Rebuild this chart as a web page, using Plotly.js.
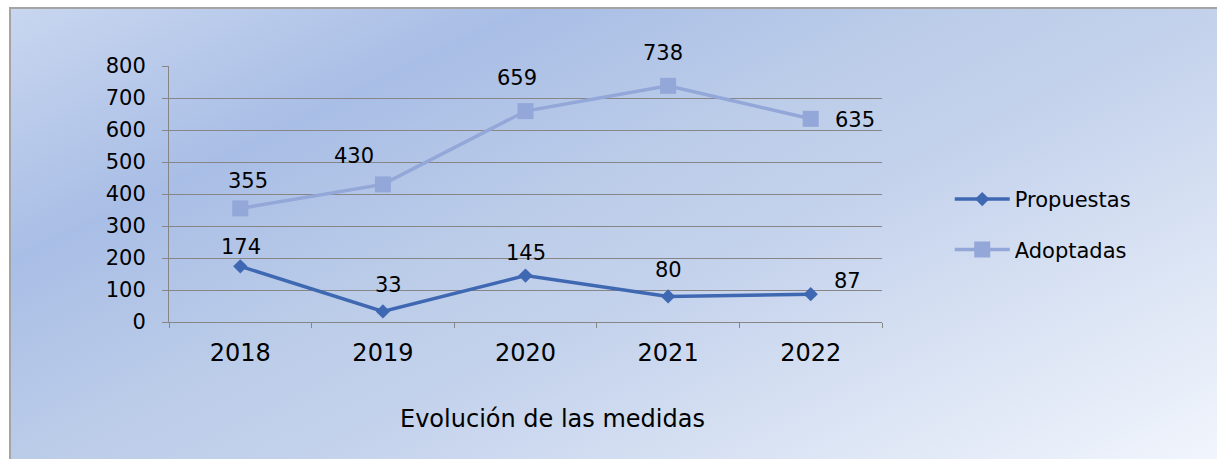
<!DOCTYPE html>
<html>
<head>
<meta charset="utf-8">
<script src="https://cdn.plot.ly/plotly-3.0.1.min.js"></script>
<style>
  html, body { margin: 0; padding: 0; background: #ffffff; }
  #wrap { position: relative; width: 1217px; height: 459px; overflow: hidden; }
  #frame {
    position: absolute; left: 9px; top: 7px; width: 1220px; height: 460px;
    border-left: 2px solid #a4a4a4; border-top: 2px solid #a4a4a4;
    background: linear-gradient(154deg, #c8d6ef 0%, #a9bee6 24%, #bccde9 44%, #c4d2ec 57%, #dde6f5 80%, #f3f6fd 100%);
  }
  #chart { position: absolute; left: 0; top: 0; width: 1217px; height: 459px; }
</style>
</head>
<body>
<div id="wrap">
  <div id="frame"></div>
  <div id="chart"></div>
</div>
<script>
// ---- data ----
const years = ['2018', '2019', '2020', '2021', '2022'];
const propuestas = [174, 33, 145, 80, 87];
const adoptadas = [355, 430, 659, 738, 635];
const seriesNames = ['Propuestas', 'Adoptadas'];
const chartTitle = 'Evolución de las medidas';

// ---- styles ----
const FONT = 'DejaVu Sans, Verdana, sans-serif';
const GRID = '#868686';
const C_PROP = '#3f68b2';
const C_ADOP = '#93a7d8';
// label offsets (px) for each point: [xshift, yshift]
const propLabelShift = [[1, 19], [6, 26], [0, 23], [0, 26], [37, 13]];
const adopLabelShift = [[8, 27], [-29, 28], [-9, 33], [-5, 33], [44, -1]];

const traces = [
  {
    x: years, y: propuestas, name: seriesNames[0], type: 'scatter', mode: 'lines+markers',
    line: { color: C_PROP, width: 3.5 },
    marker: { symbol: 'diamond', size: 11, color: C_PROP },
    legendgroup: 'a', hoverinfo: 'skip'
  },
  {
    x: years, y: adoptadas, name: seriesNames[1], type: 'scatter', mode: 'lines+markers',
    line: { color: C_ADOP, width: 3.5 },
    marker: { symbol: 'square', size: 16, color: C_ADOP },
    legendgroup: 'b', hoverinfo: 'skip'
  }
];

const labelFont = { family: FONT, size: 21, color: '#000' };
const annotations = [];
years.forEach((yr, i) => {
  // category position given by index on the category axis
  annotations.push({
    x: i, y: propuestas[i], xref: 'x', yref: 'y', text: String(propuestas[i]),
    showarrow: false, xshift: propLabelShift[i][0], yshift: propLabelShift[i][1],
    xanchor: 'center', yanchor: 'middle', font: labelFont
  });
  annotations.push({
    x: i, y: adoptadas[i], xref: 'x', yref: 'y', text: String(adoptadas[i]),
    showarrow: false, xshift: adopLabelShift[i][0], yshift: adopLabelShift[i][1],
    xanchor: 'center', yanchor: 'middle', font: labelFont
  });
});
annotations.push({
  text: chartTitle, xref: 'paper', yref: 'paper', x: 0.5372, y: -0.3789,
  xanchor: 'center', yanchor: 'middle', showarrow: false,
  font: { family: FONT, size: 24, color: '#000' }
});

const layout = {
  width: 1217, height: 459,
  margin: { l: 169, r: 335, t: 66, b: 137, pad: 0 },
  paper_bgcolor: 'rgba(0,0,0,0)', plot_bgcolor: 'rgba(0,0,0,0)',
  font: { family: FONT, size: 21, color: '#000' },
  showlegend: true,
  legend: {
    x: 1.095, y: 0.381, xanchor: 'left', yanchor: 'middle',
    bgcolor: 'rgba(0,0,0,0)', borderwidth: 0,
    font: { family: FONT, size: 21, color: '#000' },
    itemwidth: 55, traceorder: 'grouped', tracegroupgap: 20
  },
  xaxis: {
    type: 'category', range: [-0.5, 4.5],
    showgrid: false, zeroline: false,
    showline: true, linecolor: GRID, linewidth: 1,
    ticks: 'outside', ticklen: 5, tickcolor: GRID, tickwidth: 1, tickson: 'boundaries',
    ticklabelstandoff: 9,
    tickfont: { family: FONT, size: 24, color: '#000' },
    fixedrange: true
  },
  yaxis: {
    range: [0, 800], dtick: 100, tick0: 0,
    showgrid: true, gridcolor: GRID, gridwidth: 1, zeroline: false,
    showline: true, linecolor: GRID, linewidth: 1,
    ticks: 'outside', ticklen: 6, tickcolor: GRID, tickwidth: 1,
    ticklabelstandoff: 12,
    tickfont: { family: FONT, size: 21, color: '#000' },
    fixedrange: true
  },
  annotations: annotations
};

Plotly.newPlot('chart', traces, layout, { displayModeBar: false, staticPlot: true });
</script>
</body>
</html>
